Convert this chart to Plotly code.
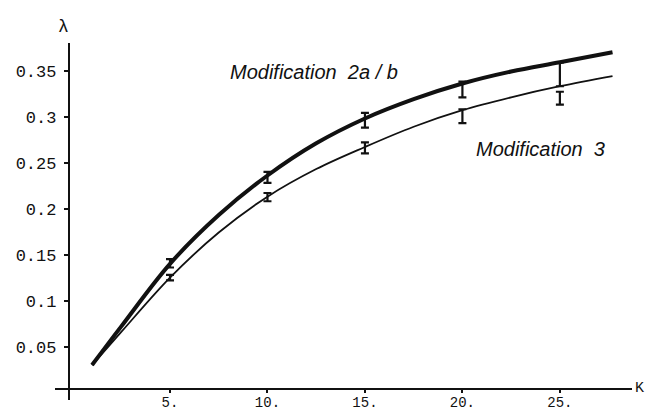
import plotly.graph_objects as go

# ---- data ----
k_curve = [1, 2.5, 5, 7.5, 10, 12.5, 15, 17.5, 20, 22.5, 25, 27.7]
mod2ab = [0.030, 0.072, 0.140, 0.193, 0.236, 0.271, 0.298, 0.319, 0.336, 0.349, 0.359, 0.370]
mod3 = [0.030, 0.066, 0.125, 0.174, 0.213, 0.243, 0.267, 0.289, 0.307, 0.321, 0.333, 0.344]

k_err = [5, 10, 15, 20, 25]
mod2ab_lo = [0.136, 0.228, 0.288, 0.321, 0.333]
mod2ab_hi = [0.145, 0.240, 0.304, 0.338, 0.359]
mod3_lo = [0.122, 0.208, 0.260, 0.293, 0.313]
mod3_hi = [0.128, 0.217, 0.272, 0.308, 0.327]

x_tickvals = [5, 10, 15, 20, 25]
x_ticktext = ["5.", "10.", "15.", "20.", "25."]
y_tickvals = [0.05, 0.1, 0.15, 0.2, 0.25, 0.3, 0.35]
y_ticktext = ["0.05", "0.1", "0.15", "0.2", "0.25", "0.3", "0.35"]

X_RANGE = [-0.9, 28.7]
Y_RANGE = [-0.008, 0.38]
X_CROSS = -0.2  # where the y axis crosses
Y_CROSS = 0.004  # where the x axis crosses

ink = "#111111"
mono = "Liberation Mono, DejaVu Sans Mono, monospace"
sans = "Liberation Sans, Arial, sans-serif"

fig = go.Figure()

fig.add_trace(go.Scatter(x=k_curve, y=mod2ab, mode="lines", line=dict(color=ink, width=4, shape="spline"),
                         showlegend=False, hoverinfo="skip"))
fig.add_trace(go.Scatter(x=k_curve, y=mod3, mode="lines", line=dict(color=ink, width=1.8, shape="spline"),
                         showlegend=False, hoverinfo="skip"))


def err_trace(lo, hi):
    mid = [(a + b) / 2 for a, b in zip(lo, hi)]
    plus = [b - m for b, m in zip(hi, mid)]
    minus = [m - a for a, m in zip(lo, mid)]
    return go.Scatter(x=k_err, y=mid, mode="markers", marker=dict(size=1, color="rgba(0,0,0,0)"),
                      error_y=dict(type="data", array=plus, arrayminus=minus, symmetric=False,
                                   color=ink, thickness=2.2, width=4),
                      showlegend=False, hoverinfo="skip")


fig.add_trace(err_trace(mod2ab_lo, mod2ab_hi))
fig.add_trace(err_trace(mod3_lo, mod3_hi))

xpos = (X_CROSS - X_RANGE[0]) / (X_RANGE[1] - X_RANGE[0])
ypos = (Y_CROSS - Y_RANGE[0]) / (Y_RANGE[1] - Y_RANGE[0])

fig.update_layout(
    width=648, height=411,
    margin=dict(l=55, r=16, t=43, b=11, autoexpand=False),
    paper_bgcolor="white", plot_bgcolor="white",
    xaxis=dict(range=X_RANGE, showgrid=False, zeroline=False, showline=True, linecolor=ink, linewidth=1.6,
               anchor="free", position=ypos, tickvals=x_tickvals, ticktext=x_ticktext, automargin=False,
               ticks="outside", ticklen=3, tickwidth=1.5, tickcolor=ink, ticklabelstandoff=-3,
               tickfont=dict(family=mono, size=14, color=ink)),
    yaxis=dict(range=Y_RANGE, showgrid=False, zeroline=False, showline=True, linecolor=ink, linewidth=1.6,
               anchor="free", position=xpos, tickvals=y_tickvals, ticktext=y_ticktext, automargin=False,
               ticks="outside", ticklen=4, tickwidth=1.5, tickcolor=ink, ticklabelstandoff=4,
               tickfont=dict(family=mono, size=17, color=ink)),
    font=dict(family=sans, color=ink),
)

fig.add_annotation(x=12.4, y=0.349, xref="x", yref="y", text="<i>Modification\u00a0\u00a02a / b</i>",
                   showarrow=False, font=dict(family=sans, size=20, color=ink), xanchor="center", yanchor="middle")
fig.add_annotation(x=24.0, y=0.265, xref="x", yref="y", text="<i>Modification\u00a0\u00a03</i>",
                   showarrow=False, font=dict(family=sans, size=20, color=ink), xanchor="center", yanchor="middle")

fig.add_annotation(x=(63 - 55) / 577, y=1 + (43 - 27) / 357, xref="paper", yref="paper", text="λ",
                   showarrow=False, font=dict(family=mono, size=18, color=ink), xanchor="center", yanchor="middle")
fig.add_annotation(x=X_RANGE[1], y=Y_CROSS, xref="x", yref="y", text="K", showarrow=False,
                   font=dict(family=mono, size=15, color=ink), xanchor="left", yanchor="middle", xshift=1)

fig.write_html("out.html")
